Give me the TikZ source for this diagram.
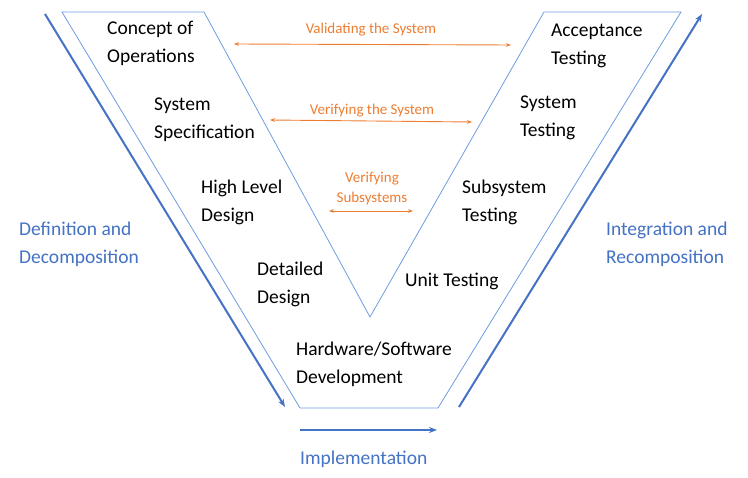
\documentclass[tikz,border=0pt]{standalone}
\usepackage{fontspec}
\setmainfont{Carlito}
\usetikzlibrary{arrows.meta}
\definecolor{vb}{HTML}{6F9BE0}
\definecolor{ab}{HTML}{4472C4}
\definecolor{og}{HTML}{ED7D31}
\tikzset{lab/.style={align=left,anchor=north west,font=\fontsize{19.5}{28}\selectfont,inner sep=0pt},
 blab/.style={align=left,anchor=north west,font=\fontsize{19.5}{28}\selectfont,inner sep=0pt,text=ab},
 olab/.style={font=\fontsize{15}{20}\selectfont,text=og,inner sep=0pt,align=center},
 oarr/.style={og,line width=0.9pt,{Stealth[length=5pt]}-{Stealth[length=5pt]}},
 barr/.style={ab,line width=2pt,-{Stealth[length=8pt]}}}
\begin{document}
\begin{tikzpicture}[x=1pt,y=-1pt]
\useasboundingbox (0,0) rectangle (748,478);
\draw[vb,line width=0.8pt] (62,12) -- (300,408) -- (438,408) -- (681,12) -- (544,12) -- (370,317) -- (204,12) -- cycle;
\coordinate (l1) at (45,14); \coordinate (l2) at (285,407);
\draw[barr] (l1) -- (l2);
\coordinate (r1) at (459,407); \coordinate (r2) at (702,14);
\draw[barr] (r1) -- (r2);
\coordinate (i1) at (300,430); \coordinate (i2) at (437,430);
\draw[barr,line width=1.5pt] (i1) -- (i2);
\node[lab] (co) at (107,21) {Concept of\\Operations};
\node[lab] (ss) at (154,98) {System\\Specification};
\node[lab] (hl) at (201,180) {High Level\\Design};
\node[lab] (dd) at (257,262) {Detailed\\Design};
\node[lab] (hw) at (296,342) {Hardware/Software\\Development};
\node[lab] (at) at (551,24) {Acceptance\\Testing};
\node[lab] (st) at (520,96) {System\\Testing};
\node[lab] (sub) at (462,180) {Subsystem\\Testing};
\node[lab] (ut) at (405,273) {Unit Testing};
\node[blab] (dec) at (19,222) {Definition and\\Decomposition};
\node[blab] (int) at (606,222) {Integration and\\Recomposition};
\node[blab] (imp) at (300,451) {Implementation};
\node[olab] (v1) at (371,30) {Validating the System};
\node[olab] (v2) at (372,111) {Verifying the System};
\node[olab] (v3) at (372,189) {Verifying\\Subsystems};
\coordinate (a1) at (234,44); \coordinate (a2) at (511,45);
\draw[oarr] (a1) -- (a2);
\coordinate (b1) at (270,120); \coordinate (b2) at (472,122);
\draw[oarr] (b1) -- (b2);
\coordinate (c1) at (329,211); \coordinate (c2) at (413,211);
\draw[oarr] (c1) -- (c2);
\end{tikzpicture}
\end{document}
